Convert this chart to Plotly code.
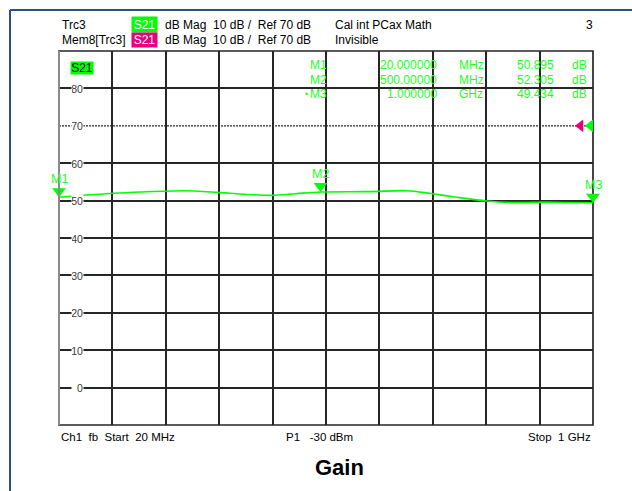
import plotly.graph_objects as go

# ---------------- data ----------------
freq_mhz = [20, 120, 170, 250, 310, 360, 410, 455, 500, 590, 660, 700, 750, 805, 860, 910, 945, 1000]
gain_db = [50.9, 51.95, 52.3, 52.65, 52.2, 51.7, 51.4, 51.85, 52.3, 52.4, 52.65, 51.95, 50.9, 49.9, 49.45, 49.6, 49.5, 49.43]

marker_names = ["M1", "M2", "M3"]
marker_freq_mhz = [20, 500, 1000]
marker_gain_db = [50.895, 52.305, 49.434]
marker_freq_text = ["20.000000", "500.00000", "1.000000"]
marker_unit = ["MHz", "MHz", "GHz"]
marker_val_text = ["50.895", "52.305", "49.434"]

y_tick_vals = [0, 10, 20, 30, 40, 50, 60, 70, 80]
ref_level_db = 70
x_start, x_stop = 20, 1000
y_min, y_max = -10, 90

# ---------------- geometry / style ----------------
W, H = 632, 491
L, R, T, B = 59, 593, 51, 425
FONT = "Arial, Liberation Sans, sans-serif"
GREEN = "#00ff00"
TXT_GREEN = "#22ff22"
PINK = "#e6007e"
GRID = "#262626"
NB = "\u00a0"


def px(x):
    return (x - L) / (R - L)


def py(y):
    return (B - y) / (B - T)


db_per_px = (y_max - y_min) / (B - T)
mhz_per_px = (x_stop - x_start) / (R - L)

fig = go.Figure()

fig.add_trace(go.Scatter(
    x=freq_mhz, y=gain_db, mode="lines",
    line=dict(color=GREEN, width=1.6, shape="spline", smoothing=0.8),
    hoverinfo="skip", showlegend=False,
))

# marker triangles (tip on the trace)
fig.add_trace(go.Scatter(
    x=marker_freq_mhz, y=[v + 6 * db_per_px for v in marker_gain_db], mode="markers",
    marker=dict(symbol="triangle-down", size=12, color=GREEN, line=dict(width=0)),
    cliponaxis=False, showlegend=False, hoverinfo="skip",
))

# reference level arrows on right edge
fig.add_trace(go.Scatter(
    x=[x_stop - 12.5 * mhz_per_px, x_stop - 2.75 * mhz_per_px],
    y=[ref_level_db, ref_level_db], mode="markers",
    marker=dict(symbol="triangle-left", size=11, color=[PINK, GREEN], line=dict(width=0)),
    cliponaxis=False, showlegend=False, hoverinfo="skip",
))

shapes = []
# outer instrument frame (blue, clipped)
shapes.append(dict(type="line", xref="paper", yref="paper", x0=px(10), x1=px(10), y0=py(10), y1=py(H + 5),
                   line=dict(color="#2f4f80", width=2)))
shapes.append(dict(type="line", xref="paper", yref="paper", x0=px(10), x1=px(W + 5), y0=py(10), y1=py(10),
                   line=dict(color="#2f4f80", width=2)))
# reference line (dotted)
shapes.append(dict(type="line", xref="paper", yref="y", x0=0, x1=1, y0=ref_level_db, y1=ref_level_db,
                   line=dict(color=GRID, width=1.2, dash="2px,1px"), layer="below"))
# plot frame
shapes.append(dict(type="rect", xref="paper", yref="paper", x0=0, x1=1, y0=0, y1=1,
                   line=dict(color=GRID, width=1.7), layer="below"))
shapes.append(dict(type="line", xref="paper", yref="paper", x0=0, x1=0, y0=0, y1=1,
                   line=dict(color="#8a8a8a", width=2)))

ann = []


def text(x, y, s, size=12, color="black", xanchor="left", bold=False, **kw):
    if bold:
        s = "<b>" + s + "</b>"
    d = dict(xref="paper", yref="paper", x=px(x), y=py(y), text=s, showarrow=False,
             xanchor=xanchor, yanchor="middle", font=dict(family=FONT, size=size, color=color))
    d.update(kw)
    ann.append(d)


# header
text(60, 25, "Trc3")
text(60, 40, "Mem8[Trc3]")
text(144.5, 25, "S21", color="white", xanchor="center", bgcolor=GREEN, width=25, height=15, borderpad=0)
text(144.5, 40, "S21", color="white", xanchor="center", bgcolor=PINK, width=25, height=14, borderpad=0)
hdr = "dB Mag" + NB * 2 + "10 dB /" + NB * 2 + "Ref 70 dB"
text(163, 25, hdr)
text(163, 40, hdr)
text(333, 25, "Cal int PCax Math")
text(333, 40, "Invisible")
text(595, 25, "3", xanchor="right")

# trace label in plot
text(82, 68, "S21", color="black", xanchor="center", bgcolor=GREEN, width=22, height=12, borderpad=0)

# marker table
rows_y = [65, 80, 94]
for i in range(3):
    yy = rows_y[i]
    text(328.5, yy, marker_names[i], color=TXT_GREEN, xanchor="right")
    text(438.5, yy, marker_freq_text[i], color=TXT_GREEN, xanchor="right")
    text(456.5, yy, marker_unit[i], color=TXT_GREEN)
    text(555.5, yy, marker_val_text[i], color=TXT_GREEN, xanchor="right")
    text(569.5, yy, "dB", color=TXT_GREEN)
text(306, 94, "•", color=TXT_GREEN, xanchor="center", size=9)

# marker labels above triangles
for i in range(3):
    ann.append(dict(x=marker_freq_mhz[i], y=marker_gain_db[i], xref="x", yref="y",
                    text=marker_names[i], showarrow=False, xanchor="center", yanchor="bottom",
                    yshift=9, font=dict(family=FONT, size=12.5, color=TXT_GREEN)))

# y tick labels inside plot
for v in y_tick_vals:
    ann.append(dict(xref="paper", yref="y", x=px(84), y=v, text=str(v), showarrow=False,
                    xanchor="right", yanchor="middle", align="right", width=11, height=11,
                    bgcolor="white", borderpad=0,
                    font=dict(family=FONT, size=10.5, color="#3a3a3a")))

# footer
text(59, 437, "Ch1" + NB * 2 + "fb" + NB * 2 + "Start" + NB * 2 + "20 MHz", size=11.5)
text(284, 437, "P1" + NB * 3 + "-30 dBm", size=11.5)
text(593, 437, "Stop" + NB * 2 + "1 GHz", size=11.5, xanchor="right")
text(339, 467, "Gain", size=22, xanchor="center", bold=True)

fig.update_layout(
    width=W, height=H,
    margin=dict(l=L, r=W - R, t=T, b=H - B, pad=0),
    paper_bgcolor="white", plot_bgcolor="white",
    showlegend=False,
    shapes=shapes, annotations=ann,
    xaxis=dict(range=[x_start, x_stop], tick0=x_start, dtick=(x_stop - x_start) / 10,
               showgrid=True, gridcolor=GRID, gridwidth=1.7, showticklabels=False,
               zeroline=False, showline=False, ticks="", fixedrange=True),
    yaxis=dict(range=[y_min, y_max], tickmode="array",
               tickvals=[v for v in y_tick_vals if v != ref_level_db],
               showgrid=True, gridcolor=GRID, gridwidth=1.7, showticklabels=False,
               zeroline=False, showline=False, ticks="", fixedrange=True),
)

fig.write_html("out.html", config={"displayModeBar": False},
               post_script="document.body.style.margin='0';document.body.style.overflow='hidden';")
